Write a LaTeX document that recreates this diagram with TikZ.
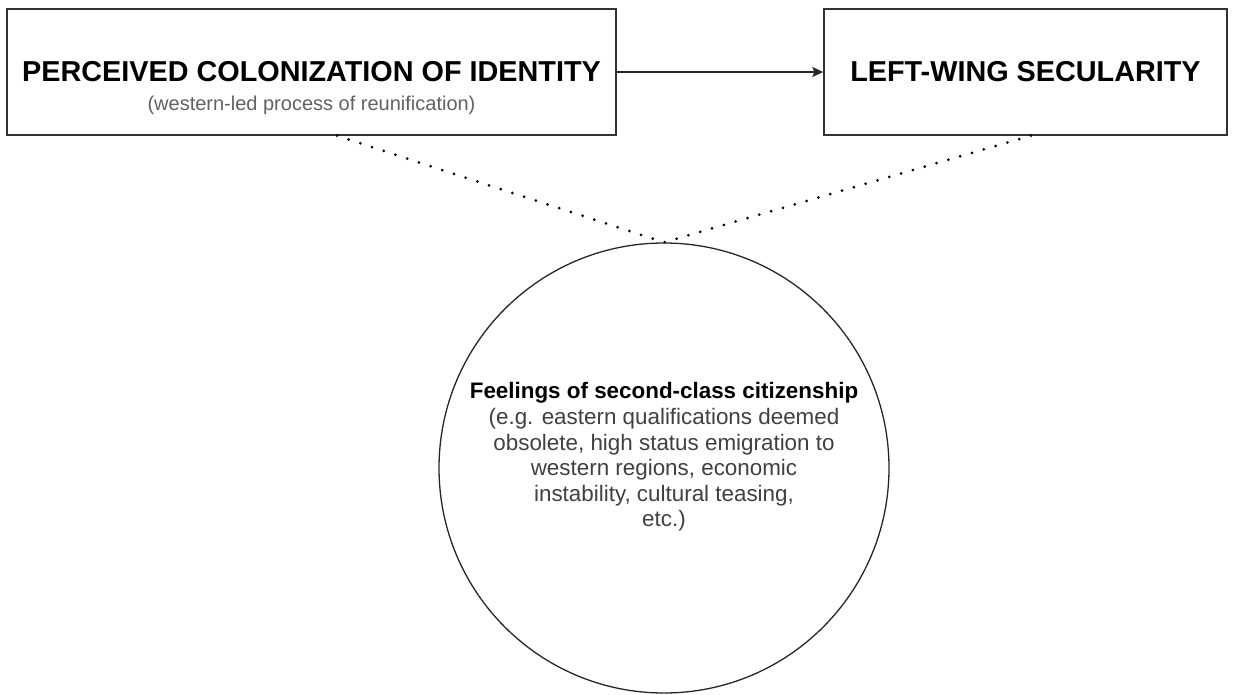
\documentclass[tikz,border=0pt]{standalone}
\usepackage{fontspec}
\setmainfont{Liberation Sans}
\usetikzlibrary{arrows.meta}

\begin{document}
\begin{tikzpicture}[x=1pt,y=-1pt,
    box/.style={draw=black!80, line width=1.4pt, minimum height=126pt, inner sep=0pt,
      font=\fontsize{28.8}{32}\selectfont\bfseries},
    sub/.style={inner sep=0pt, text=black!62, font=\fontsize{20}{24}\selectfont},
    link/.style={draw=black!85, line width=1.3pt, -{Stealth[length=11pt,width=10pt,inset=2pt]}},
    dotlink/.style={line width=3pt, line cap=round, dash pattern=on 0pt off 12.3pt}]
    \useasboundingbox (0,0) rectangle (1234,694);
    %boxes
    \node[box, minimum width=609pt] (colon) at (311.5,72) {PERCEIVED COLONIZATION OF IDENTITY};
    \node[sub] (colonsub) at ([yshift=-33pt]colon.center) {(western-led process of reunification)};
    \node[box, minimum width=403pt] (secular) at (1025.5,72) {LEFT-WING SECULARITY};
    %circle
    \node[circle, draw=black!85, line width=1.3pt, minimum size=450pt, inner sep=0pt] (feel) at (664,468) {};
    \node[align=center, text=black!75, font=\fontsize{22.4}{25.6}\selectfont] (feeltext) at (664,457)
      {{\color{black}\bfseries Feelings of second-class citizenship}\\
       (e.g. eastern qualifications deemed\\
       obsolete, high status emigration to\\
       western regions, economic\\
       instability, cultural teasing,\\
       etc.)};
    %edges
    \path[link] (colon) -- (secular);
    \draw[dotlink] ([xshift=25.5pt]colon.south) -- (feel.north);
    \draw[dotlink] ([xshift=5.5pt]secular.south) -- (feel.north);
\end{tikzpicture}
\end{document}
